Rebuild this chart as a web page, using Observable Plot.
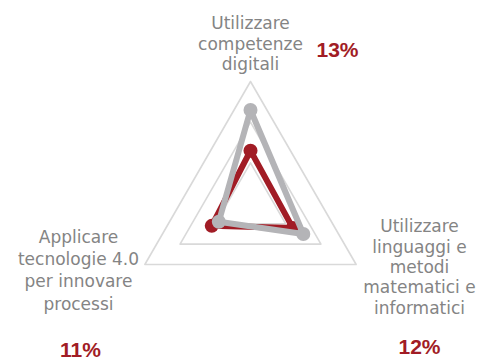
<!DOCTYPE html>
<html>
<head>
<meta charset="utf-8">
<script src="https://cdn.jsdelivr.net/npm/d3@7"></script>
<script src="https://cdn.jsdelivr.net/npm/@observablehq/plot@0.6"></script>
<style>
  html, body { margin: 0; padding: 0; background: #fff; }
  #chart svg { display: block; }
</style>
</head>
<body>
<div id="chart"></div>
<script>
// ---- Data ----
const categories = [
  "Utilizzare\ncompetenze\ndigitali",
  "Utilizzare\nlinguaggi e\nmetodi\nmatematici e\ninformatici",
  "Applicare\ntecnologie 4.0\nper innovare\nprocessi"
];
const redValues  = [13, 12, 11];
const grayValues = [23, 15, 9];
const pctLabels  = ["13%", "12%", "11%"];
const gridLevels = [10, 20, 30];

// ---- Geometry helpers (polar -> cartesian in data units) ----
const n = categories.length;
const angle = i => (2 * Math.PI * i) / n; // 0 = top, clockwise
const px = (i, r) => r * Math.sin(angle(i));
const py = (i, r) => r * Math.cos(angle(i));
const ring = values => [...values, values[0]].map((v, k) => ({x: px(k % n, v), y: py(k % n, v)}));

const gridRings = gridLevels.flatMap(level =>
  ring(categories.map(() => level)).map(d => ({...d, level}))
);
const redRing = ring(redValues);
const grayRing = ring(grayValues);
const redPts = redValues.map((v, i) => ({x: px(i, v), y: py(i, v)}));
const grayPts = grayValues.map((v, i) => ({x: px(i, v), y: py(i, v)}));

// scale: 30 units = 122 px, centre at (250, 203)
const k = 122 / 30;
const W = 478, H = 360, cx = 250, cy = 203;

const red = "#a11c25";
const gray = "#b4b4b7";
const textGray = "#848484";
const font = "DejaVu Sans, sans-serif";
const pctFont = "Liberation Sans, Arial, sans-serif";

const labelPos = [
  {dx: 250, dy: 42.5, lh: 1.2},
  {dx: 419, dy: 266, lh: 1.2},
  {dx: 78,  dy: 268.5, lh: 1.31}
];
const pctPos = [
  {dx: 337, dy: 50},
  {dx: 419, dy: 347},
  {dx: 80,  dy: 350}
];

const plot = Plot.plot({
  width: W,
  height: H,
  margin: 0,
  x: {domain: [-cx / k, (W - cx) / k], range: [0, W], axis: null},
  y: {domain: [-(H - cy) / k, cy / k], range: [H, 0], axis: null},
  style: {background: "#fff", fontFamily: font},
  marks: [
    Plot.line(gridRings, {x: "x", y: "y", z: "level", stroke: "#d9d9d9", strokeWidth: 1.6}),
    Plot.line(redRing, {x: "x", y: "y", stroke: red, strokeWidth: 6, strokeLinejoin: "round"}),
    Plot.dot(redPts, {x: "x", y: "y", r: 7, fill: red}),
    Plot.line(grayRing, {x: "x", y: "y", stroke: gray, strokeWidth: 6, strokeLinejoin: "round"}),
    Plot.dot(grayPts, {x: "x", y: "y", r: 7, fill: gray}),
    ...categories.map((c, i) => Plot.text([c], {
      frameAnchor: "top-left", dx: labelPos[i].dx, dy: labelPos[i].dy,
      text: d => d, textAnchor: "middle", lineAnchor: "middle",
      lineHeight: labelPos[i].lh, fontSize: 17, fill: textGray, fontFamily: font
    })),
    ...pctLabels.map((p, i) => Plot.text([p], {
      frameAnchor: "top-left", dx: pctPos[i].dx, dy: pctPos[i].dy,
      text: d => d, textAnchor: "middle", lineAnchor: "middle",
      fontSize: 21, fontWeight: "bold", fill: red, fontFamily: pctFont
    }))
  ]
});
document.getElementById("chart").appendChild(plot);
</script>
</body>
</html>
